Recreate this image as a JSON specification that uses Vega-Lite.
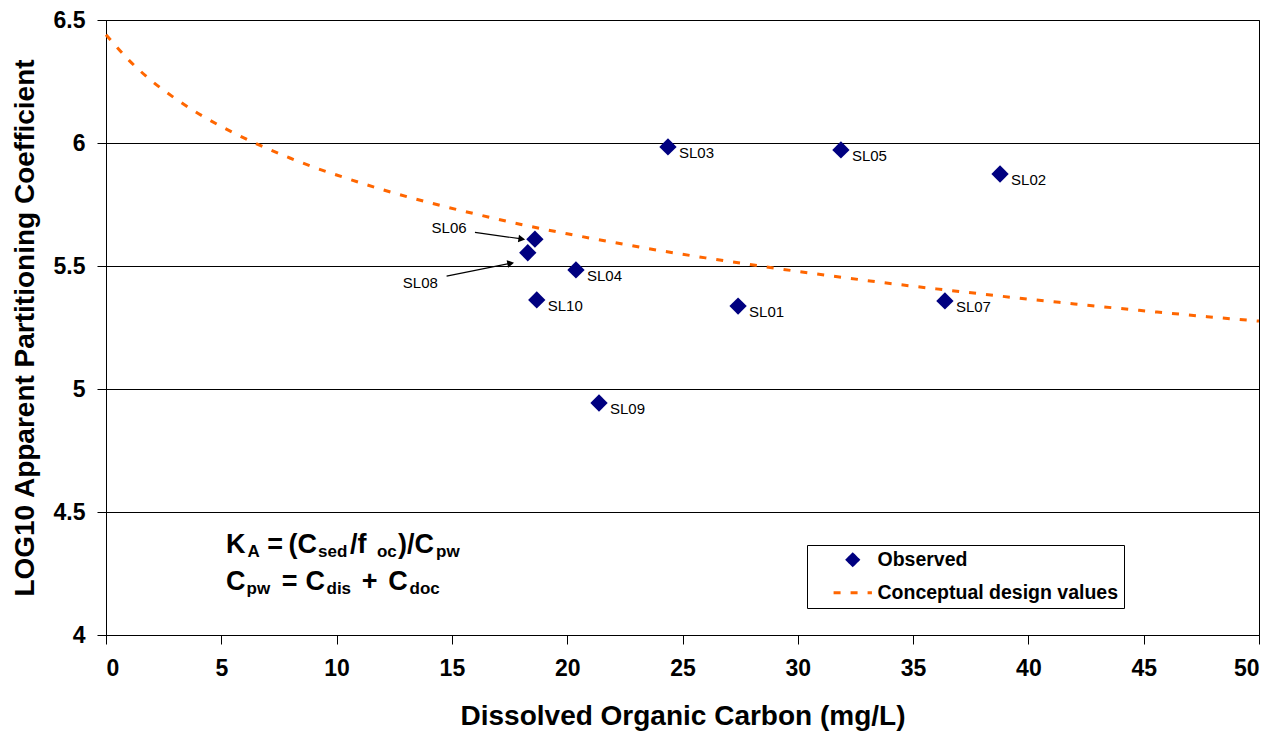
{
  "$schema": "https://vega.github.io/schema/vega-lite/v6.json",
  "width": 1153,
  "height": 615,
  "autosize": {"type": "none"},
  "padding": {"left": 106, "top": 20, "right": 20, "bottom": 102},
  "background": "white",
  "config": {
    "font": "Liberation Sans",
    "view": {"stroke": "black", "strokeWidth": 1},
    "axis": {
      "domainColor": "black", "tickColor": "black", "labelColor": "black", "titleColor": "black",
      "labelFont": "Liberation Sans", "titleFont": "Liberation Sans",
      "labelFontWeight": "bold", "titleFontWeight": "bold",
      "labelFontSize": 23, "titleFontSize": 28, "tickSize": 9,
      "gridColor": "black", "gridOpacity": 1, "gridWidth": 1
    },
    "legend": {
      "orient": "none", "legendX": 701, "legendY": 525, "padding": 5,
      "fillColor": "white", "strokeColor": "black", "strokeWidth": 1,
      "labelFont": "Liberation Sans", "labelFontSize": 19.5, "labelFontWeight": "bold", "labelColor": "black",
      "labelLimit": 400,
      "symbolSize": 120, "symbolStrokeWidth": 3, "symbolOffset": 31, "labelOffset": 15, "rowPadding": 10
    }
  },
  "datasets": {
    "curve": [
      {"doc": 0, "logk": 6.440, "series": "Conceptual design values"},
      {"doc": 1, "logk": 6.336, "series": "Conceptual design values"},
      {"doc": 2, "logk": 6.251, "series": "Conceptual design values"},
      {"doc": 3, "logk": 6.181, "series": "Conceptual design values"},
      {"doc": 4, "logk": 6.120, "series": "Conceptual design values"},
      {"doc": 5, "logk": 6.067, "series": "Conceptual design values"},
      {"doc": 6, "logk": 6.020, "series": "Conceptual design values"},
      {"doc": 7, "logk": 5.977, "series": "Conceptual design values"},
      {"doc": 8, "logk": 5.938, "series": "Conceptual design values"},
      {"doc": 9, "logk": 5.902, "series": "Conceptual design values"},
      {"doc": 10, "logk": 5.870, "series": "Conceptual design values"},
      {"doc": 12, "logk": 5.810, "series": "Conceptual design values"},
      {"doc": 14, "logk": 5.758, "series": "Conceptual design values"},
      {"doc": 16, "logk": 5.712, "series": "Conceptual design values"},
      {"doc": 18, "logk": 5.669, "series": "Conceptual design values"},
      {"doc": 20, "logk": 5.631, "series": "Conceptual design values"},
      {"doc": 22, "logk": 5.596, "series": "Conceptual design values"},
      {"doc": 24, "logk": 5.563, "series": "Conceptual design values"},
      {"doc": 26, "logk": 5.533, "series": "Conceptual design values"},
      {"doc": 28, "logk": 5.505, "series": "Conceptual design values"},
      {"doc": 30, "logk": 5.478, "series": "Conceptual design values"},
      {"doc": 32, "logk": 5.453, "series": "Conceptual design values"},
      {"doc": 34, "logk": 5.429, "series": "Conceptual design values"},
      {"doc": 36, "logk": 5.407, "series": "Conceptual design values"},
      {"doc": 38, "logk": 5.386, "series": "Conceptual design values"},
      {"doc": 40, "logk": 5.365, "series": "Conceptual design values"},
      {"doc": 42, "logk": 5.346, "series": "Conceptual design values"},
      {"doc": 44, "logk": 5.327, "series": "Conceptual design values"},
      {"doc": 46, "logk": 5.309, "series": "Conceptual design values"},
      {"doc": 48, "logk": 5.292, "series": "Conceptual design values"},
      {"doc": 50, "logk": 5.276, "series": "Conceptual design values"}
    ],
    "obs": [
      {"id": "SL01", "doc": 27.41, "logk": 5.337, "series": "Observed"},
      {"id": "SL02", "doc": 38.77, "logk": 5.874, "series": "Observed"},
      {"id": "SL03", "doc": 24.37, "logk": 5.984, "series": "Observed"},
      {"id": "SL04", "doc": 20.38, "logk": 5.484, "series": "Observed"},
      {"id": "SL05", "doc": 31.87, "logk": 5.972, "series": "Observed"},
      {"id": "SL06", "doc": 18.60, "logk": 5.609, "series": "Observed"},
      {"id": "SL07", "doc": 36.38, "logk": 5.358, "series": "Observed"},
      {"id": "SL08", "doc": 18.29, "logk": 5.554, "series": "Observed"},
      {"id": "SL09", "doc": 21.38, "logk": 4.943, "series": "Observed"},
      {"id": "SL10", "doc": 18.68, "logk": 5.362, "series": "Observed"}
    ],
    "callouts": [
      {"id": "SL06", "doc": 14.12, "logk": 5.656, "ax": 16.00, "ay": 5.637, "bx": 18.03, "by": 5.610},
      {"id": "SL08", "doc": 12.87, "logk": 5.431, "ax": 14.77, "ay": 5.459, "bx": 17.55, "by": 5.511}
    ],
    "formula": [
      {"doc": 5.204, "logk": 4.333, "text": "K", "kind": "main"},
      {"doc": 6.136, "logk": 4.333, "text": "A", "kind": "sub"},
      {"doc": 6.995, "logk": 4.333, "text": "=", "kind": "main"},
      {"doc": 7.914, "logk": 4.333, "text": "(C", "kind": "main"},
      {"doc": 9.193, "logk": 4.333, "text": "sed", "kind": "sub"},
      {"doc": 10.581, "logk": 4.333, "text": "/f", "kind": "main"},
      {"doc": 11.75, "logk": 4.333, "text": "oc", "kind": "sub"},
      {"doc": 12.663, "logk": 4.333, "text": ")/C", "kind": "main"},
      {"doc": 14.311, "logk": 4.333, "text": "pw", "kind": "sub"},
      {"doc": 5.204, "logk": 4.182, "text": "C", "kind": "main"},
      {"doc": 6.093, "logk": 4.182, "text": "pw", "kind": "sub"},
      {"doc": 7.619, "logk": 4.182, "text": "=", "kind": "main"},
      {"doc": 8.647, "logk": 4.182, "text": "C", "kind": "main"},
      {"doc": 9.562, "logk": 4.182, "text": "dis", "kind": "sub"},
      {"doc": 11.089, "logk": 4.182, "text": "+", "kind": "main"},
      {"doc": 12.242, "logk": 4.182, "text": "C", "kind": "main"},
      {"doc": 13.161, "logk": 4.182, "text": "doc", "kind": "sub"}
    ]
  },
  "layer": [
    {
      "data": {"name": "curve"},
      "mark": {"type": "line", "strokeWidth": 3, "interpolate": "monotone"},
      "encoding": {
        "x": {"field": "doc", "type": "quantitative",
              "scale": {"domain": [0, 50], "nice": false, "zero": false},
              "axis": {"title": "Dissolved Organic Carbon (mg/L)", "values": [0, 5, 10, 15, 20, 25, 30, 35, 40, 45, 50], "grid": false, "labelPadding": 13, "titlePadding": 22}},
        "y": {"field": "logk", "type": "quantitative",
              "scale": {"domain": [4, 6.5], "nice": false, "zero": false},
              "axis": {"title": "LOG10 Apparent Partitioning Coefficient", "values": [4, 4.5, 5, 5.5, 6, 6.5], "format": "~g", "grid": true, "labelPadding": 12, "titlePadding": 14}},
        "color": {"field": "series", "type": "nominal",
                  "scale": {"domain": ["Observed", "Conceptual design values"], "range": ["#000080", "#FF6600"]},
                  "legend": {"title": null}},
        "strokeDash": {"field": "series", "type": "nominal",
                       "scale": {"domain": ["Observed", "Conceptual design values"], "range": [[1, 0], [7, 10]]},
                       "legend": {"title": null}}
      }
    },
    {
      "data": {"name": "obs"},
      "mark": {"type": "point", "filled": true, "size": 300, "opacity": 1},
      "encoding": {
        "x": {"field": "doc", "type": "quantitative"},
        "y": {"field": "logk", "type": "quantitative"},
        "color": {"field": "series", "type": "nominal",
                  "scale": {"domain": ["Observed", "Conceptual design values"], "range": ["#000080", "#FF6600"]},
                  "legend": {"title": null}},
        "shape": {"field": "series", "type": "nominal",
                  "scale": {"domain": ["Observed", "Conceptual design values"], "range": ["diamond", "M-3.5,0L3.5,0"]},
                  "legend": {"title": null}}
      }
    },
    {
      "data": {"name": "obs"},
      "transform": [{"filter": "datum.id !== 'SL06' && datum.id !== 'SL08'"}],
      "mark": {"type": "text", "align": "left", "baseline": "middle", "dx": 11, "dy": 6, "fontSize": 15, "color": "black", "font": "Liberation Sans"},
      "encoding": {
        "x": {"field": "doc", "type": "quantitative"},
        "y": {"field": "logk", "type": "quantitative"},
        "text": {"field": "id"}
      }
    },
    {
      "data": {"name": "callouts"},
      "mark": {"type": "text", "align": "left", "baseline": "middle", "fontSize": 15, "color": "black", "font": "Liberation Sans"},
      "encoding": {
        "x": {"field": "doc", "type": "quantitative"},
        "y": {"field": "logk", "type": "quantitative"},
        "text": {"field": "id"}
      }
    },
    {
      "data": {"name": "callouts"},
      "mark": {"type": "rule", "color": "black", "strokeWidth": 1.2},
      "encoding": {
        "x": {"field": "ax", "type": "quantitative"},
        "y": {"field": "ay", "type": "quantitative"},
        "x2": {"field": "bx"},
        "y2": {"field": "by"}
      }
    },
    {
      "data": {"name": "callouts"},
      "transform": [{"filter": "datum.id === 'SL06'"}],
      "mark": {"type": "point", "shape": "triangle-right", "filled": true, "color": "black", "size": 60, "angle": 8, "opacity": 1},
      "encoding": {
        "x": {"field": "bx", "type": "quantitative"},
        "y": {"field": "by", "type": "quantitative"}
      }
    },
    {
      "data": {"name": "callouts"},
      "transform": [{"filter": "datum.id === 'SL08'"}],
      "mark": {"type": "point", "shape": "triangle-right", "filled": true, "color": "black", "size": 60, "angle": -11, "opacity": 1},
      "encoding": {
        "x": {"field": "bx", "type": "quantitative"},
        "y": {"field": "by", "type": "quantitative"}
      }
    },
    {
      "data": {"name": "formula"},
      "transform": [{"filter": "datum.kind === 'main'"}],
      "mark": {"type": "text", "align": "left", "baseline": "alphabetic", "fontSize": 27, "fontWeight": "bold", "color": "black", "font": "Liberation Sans"},
      "encoding": {
        "x": {"field": "doc", "type": "quantitative"},
        "y": {"field": "logk", "type": "quantitative"},
        "text": {"field": "text"}
      }
    },
    {
      "data": {"name": "formula"},
      "transform": [{"filter": "datum.kind === 'sub'"}],
      "mark": {"type": "text", "align": "left", "baseline": "alphabetic", "dy": 4, "fontSize": 17, "fontWeight": "bold", "color": "black", "font": "Liberation Sans"},
      "encoding": {
        "x": {"field": "doc", "type": "quantitative"},
        "y": {"field": "logk", "type": "quantitative"},
        "text": {"field": "text"}
      }
    }
  ]
}
